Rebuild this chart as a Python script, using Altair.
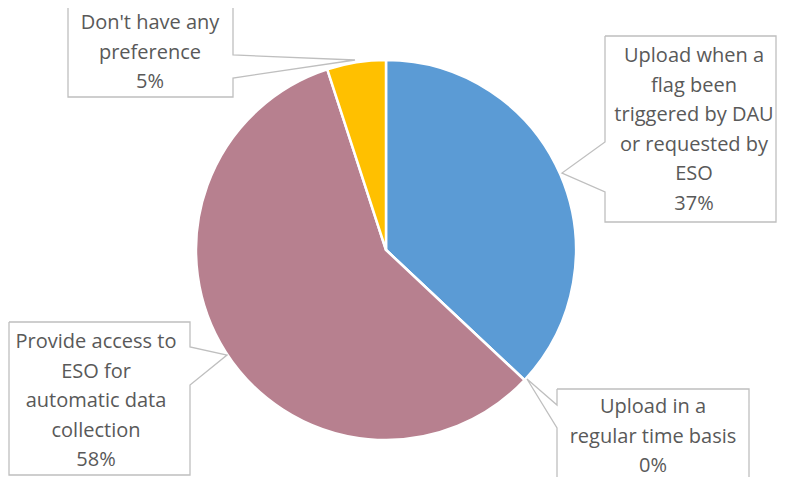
import altair as alt
import pandas as pd

# ---- data ----
categories = [
    "Upload when a flag been triggered by DAU or requested by ESO",
    "Upload in a regular time basis",
    "Provide access to ESO for automatic data collection",
    "Don't have any preference",
]
values = [37, 0, 58, 5]
colors = ["#5B9BD5", "#A5A5A5", "#B7808F", "#FFC000"]
label_lines = [
    ["Upload when a", "flag been", "triggered by DAU", "or requested by", "ESO"],
    ["Upload in a", "regular time basis"],
    ["Provide access to", "ESO for", "automatic data", "collection"],
    ["Don't have any", "preference"],
]

# ---- layout (reference pixel coordinates; y = first text line) ----
CX, CY, R = 386, 250, 190
label_xy = [(694, 56), (653, 407), (96, 342), (150, 23)]
callout_paths = [
    [(605, 36), (776, 36), (776, 222), (605, 222), (605, 192), (562, 173), (605, 142), (605, 36)],
    [(557, 389), (749, 389), (749, 495), (557, 495), (557, 428), (527, 379), (557, 405), (557, 389)],
    [(9, 322), (190, 322), (190, 347), (227, 355), (190, 385), (190, 475), (9, 475), (9, 322)],
    [(68, -5), (233, -5), (233, 55), (355, 60), (233, 78), (233, 97), (68, 97), (68, -5)],
]

W, H = 769, 469
xs = alt.Scale(domain=[8, 8 + W], zero=False, nice=False)
ys = alt.Scale(domain=[8 + H, 8], zero=False, nice=False)

pie_df = pd.DataFrame({"category": categories, "value": values, "order": range(len(values))})

path_rows = []
for ci, pts in enumerate(callout_paths):
    for i, (px, py) in enumerate(pts):
        path_rows.append({"callout": ci, "idx": i, "px": px, "py": py})
path_df = pd.DataFrame(path_rows)

label_df = pd.DataFrame({
    "label": ["\n".join(lines + [f"{v}%"]) for lines, v in zip(label_lines, values)],
    "lx": [p[0] for p in label_xy],
    "ly": [p[1] for p in label_xy],
})

pie = alt.Chart(pie_df).mark_arc(radius=R, stroke="white", strokeWidth=2.5).encode(
    theta=alt.Theta("value:Q", stack=True),
    order=alt.Order("order:Q"),
    color=alt.Color("category:N", scale=alt.Scale(domain=categories, range=colors), legend=None),
    x=alt.value(CX - 8),
    y=alt.value(CY - 8),
)

outlines = alt.Chart(path_df).mark_line(color="#BFBFBF", strokeWidth=1.3, clip=True).encode(
    x=alt.X("px:Q", scale=xs, axis=None),
    y=alt.Y("py:Q", scale=ys, axis=None),
    detail="callout:N",
    order="idx:Q",
)

labels = alt.Chart(label_df).mark_text(
    font="Open Sans", fontSize=20, color="#595959", lineBreak="\n", lineHeight=29.5,
    align="center", baseline="middle",
).encode(
    x=alt.X("lx:Q", scale=xs, axis=None),
    y=alt.Y("ly:Q", scale=ys, axis=None),
    text="label:N",
)

chart = alt.layer(pie, outlines, labels).properties(
    width=W, height=H, padding=0, autosize=alt.AutoSizeParams(type="none"),
    background="white",
).configure_view(stroke=None)

chart.save("out.html", embed_options={"renderer": "svg", "actions": False})
